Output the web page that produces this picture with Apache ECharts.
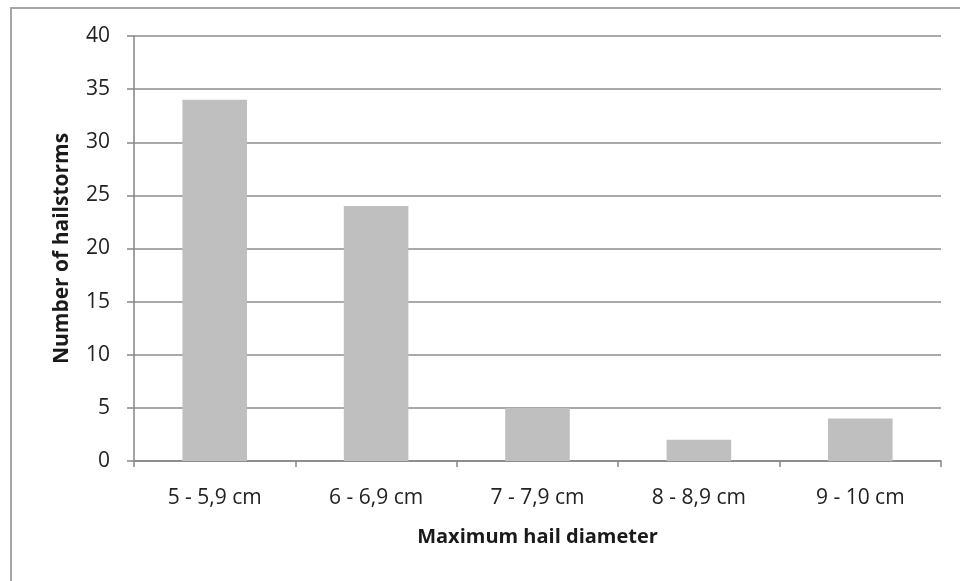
<!DOCTYPE html>
<html><head><meta charset="utf-8">
<script src="https://cdn.jsdelivr.net/npm/echarts@6/dist/echarts.min.js"></script>
<style>html,body{margin:0;padding:0;background:#fff}#c{width:960px;height:581px}
#frame{position:absolute;left:10px;top:7px;width:960px;height:600px;border:2px solid #a6a6a6;box-sizing:border-box;pointer-events:none}</style>
</head><body><div id="c"></div><div id="frame"></div>
<script>
const categories = ['5 - 5,9 cm', '6 - 6,9 cm', '7 - 7,9 cm', '8 - 8,9 cm', '9 - 10 cm'];
const hailstorms = [34, 24, 5, 2, 4];
const yTicks = [0, 40, 5];
const chart = echarts.init(document.getElementById('c'));
const font = '"Open Sans", "DejaVu Sans", sans-serif';
chart.setOption({
  animation: false,
  grid: { left: 134, right: 19, top: 36, bottom: 120 },
  xAxis: {
    type: 'category', data: categories,
    name: 'Maximum hail diameter', nameLocation: 'middle', nameGap: 66,
    nameTextStyle: { fontFamily: font, fontWeight: 'bold', fontSize: 20, color: '#1a1a1a' },
    axisLine: { lineStyle: { color: '#868686', width: 1.5 } },
    axisTick: { show: true, length: 6, lineStyle: { color: '#868686', width: 1.5 } },
    axisLabel: { fontFamily: font, fontSize: 21, color: '#222', margin: 27 }
  },
  yAxis: {
    type: 'value', min: yTicks[0], max: yTicks[1], interval: yTicks[2],
    name: 'Number of hailstorms', nameLocation: 'middle', nameGap: 61,
    nameTextStyle: { fontFamily: font, fontWeight: 'bold', fontSize: 21, color: '#1a1a1a' },
    axisLine: { show: true, lineStyle: { color: '#868686', width: 1.5 } },
    axisTick: { show: true, length: 7, lineStyle: { color: '#868686', width: 1.5 } },
    axisLabel: { fontFamily: font, fontSize: 21, color: '#222', margin: 24 },
    splitLine: { lineStyle: { color: '#8c8c8c', width: 1.5 } }
  },
  series: [{ type: 'bar', data: hailstorms, barWidth: '40%', itemStyle: { color: '#bfbfbf' } }]
});
</script></body></html>
